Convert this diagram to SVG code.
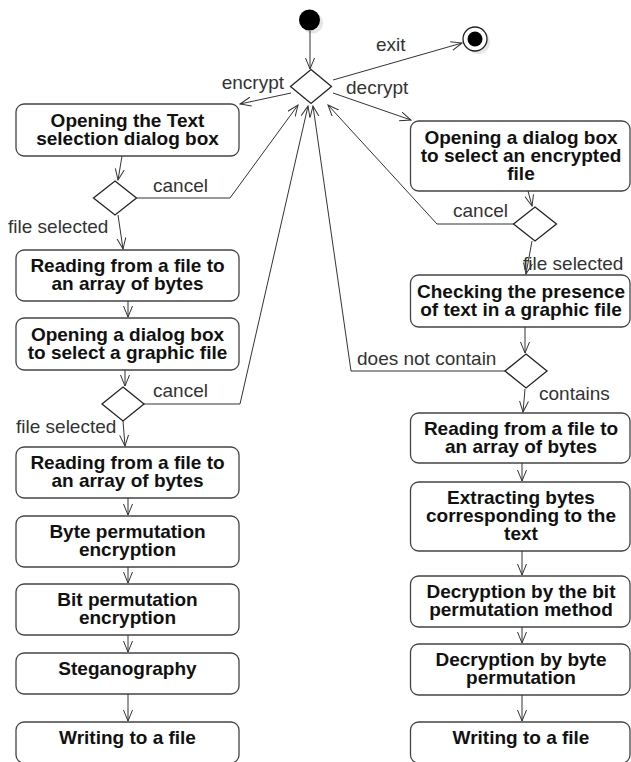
<svg xmlns="http://www.w3.org/2000/svg" width="631" height="762" viewBox="0 0 631 762">
<style>
.box{fill:#fff;stroke:#444;stroke-width:1.3}
.dia{fill:#fff;stroke:#222;stroke-width:1.3}
.t{font-family:"Liberation Sans",Arial,sans-serif;font-size:19px;font-weight:bold;fill:#111;text-anchor:middle}
.lb{font-family:"Liberation Sans",Arial,sans-serif;font-size:19px;fill:#333}
.c{fill:none;stroke:#333;stroke-width:1;marker-end:url(#a)}
</style>
<defs>
<marker id="a" markerUnits="userSpaceOnUse" markerWidth="12" markerHeight="12" refX="11" refY="5" orient="auto"><path d="M0,0.5 L11,5 L0,9.5" fill="none" stroke="#333" stroke-width="1"/></marker>
</defs>
<rect width="631" height="762" fill="#fff"/>
<g id="start"><circle cx="312.5" cy="23" r="10.5" fill="#e6e6e6"/><circle cx="309.5" cy="20" r="10.5" fill="#000"/></g>
<g id="end"><circle cx="478" cy="42" r="12" fill="#e6e6e6"/><circle cx="475" cy="39" r="12" fill="#fff" stroke="#222" stroke-width="1.3"/><circle cx="475" cy="39" r="7.5" fill="#000"/></g>
<g id="dMain"><polygon class="dia" points="311,69.5 331.5,86.5 311,103.5 290.5,86.5"/></g>
<g id="dL1"><polygon class="dia" points="115,181 136.5,198 115,215 93.5,198"/></g>
<g id="dL2"><polygon class="dia" points="123,387 144,404 123,421 102,404"/></g>
<g id="dR1"><polygon class="dia" points="535,207 556.5,224 535,241 513.5,224"/></g>
<g id="dR2"><polygon class="dia" points="526,354 547,371 526,388 505,371"/></g>
<g id="b1"><rect class="box" x="16" y="104" width="223" height="52" rx="8"/><text class="t" x="127.5" y="127">Opening the Text<tspan x="127.5" dy="18">selection dialog box</tspan></text></g>
<g id="b2"><rect class="box" x="16" y="250" width="223" height="51" rx="8"/><text class="t" x="127.5" y="272">Reading from a file to<tspan x="127.5" dy="18">an array of bytes</tspan></text></g>
<g id="b3"><rect class="box" x="16" y="318" width="223" height="52" rx="8"/><text class="t" x="127.5" y="340.5">Opening a dialog box<tspan x="127.5" dy="18">to select a graphic file</tspan></text></g>
<g id="b4"><rect class="box" x="16" y="447" width="223" height="51" rx="8"/><text class="t" x="127.5" y="469">Reading from a file to<tspan x="127.5" dy="18">an array of bytes</tspan></text></g>
<g id="b5"><rect class="box" x="16" y="516" width="223" height="51" rx="8"/><text class="t" x="127.5" y="538">Byte permutation<tspan x="127.5" dy="18">encryption</tspan></text></g>
<g id="b6"><rect class="box" x="16" y="584" width="223" height="51" rx="8"/><text class="t" x="127.5" y="606">Bit permutation<tspan x="127.5" dy="18">encryption</tspan></text></g>
<g id="b7"><rect class="box" x="16" y="653" width="223" height="41" rx="8"/><text class="t" x="127.5" y="675">Steganography</text></g>
<g id="b8"><rect class="box" x="16" y="722" width="223" height="41" rx="8"/><text class="t" x="127.5" y="744">Writing to a file</text></g>
<g id="r1"><rect class="box" x="410.5" y="121" width="219.5" height="70" rx="8"/><text class="t" x="521" y="144">Opening a dialog box<tspan x="521" dy="18">to select an encrypted</tspan><tspan x="521" dy="18">file</tspan></text></g>
<g id="r2"><rect class="box" x="410.5" y="275" width="219.5" height="52" rx="8"/><text class="t" x="521" y="297.5">Checking the presence<tspan x="521" dy="18">of text in a graphic file</tspan></text></g>
<g id="r3"><rect class="box" x="410.5" y="413" width="219.5" height="50" rx="8"/><text class="t" x="521" y="435">Reading from a file to<tspan x="521" dy="18">an array of bytes</tspan></text></g>
<g id="r4"><rect class="box" x="410.5" y="482" width="219.5" height="69" rx="8"/><text class="t" x="521" y="503.5">Extracting bytes<tspan x="521" dy="18">corresponding to the</tspan><tspan x="521" dy="18">text</tspan></text></g>
<g id="r5"><rect class="box" x="410.5" y="576" width="219.5" height="51" rx="8"/><text class="t" x="521" y="598">Decryption by the bit<tspan x="521" dy="18">permutation method</tspan></text></g>
<g id="r6"><rect class="box" x="410.5" y="644" width="219.5" height="51" rx="8"/><text class="t" x="521" y="666">Decryption by byte<tspan x="521" dy="18">permutation</tspan></text></g>
<g id="r7"><rect class="box" x="410.5" y="722" width="219.5" height="41" rx="8"/><text class="t" x="521" y="744">Writing to a file</text></g>
<g id="connectors">
<path class="c" d="M310,31 L310,69"/>
<path class="c" d="M291,93 L240,104"/>
<path class="c" d="M333,80 L462,43"/>
<path class="c" d="M333,93 L411,120"/>
<path class="c" d="M122,156 L118,180"/>
<path class="c" d="M118,215 L123,249"/>
<path class="c" d="M136.5,198 L230,198 L298,105"/>
<path class="c" d="M128,301 L128,317"/>
<path class="c" d="M125,370 L125,386"/>
<path class="c" d="M123,421 L125,446"/>
<path class="c" d="M144,404 L240,404 L308,106"/>
<path class="c" d="M128,498 L128,515"/>
<path class="c" d="M128,567 L128,583"/>
<path class="c" d="M128,635 L128,652"/>
<path class="c" d="M128,694 L128,721"/>
<path class="c" d="M528,191 L532,206"/>
<path class="c" d="M532,241 L526,274"/>
<path class="c" d="M513.5,224 L437,224 L328,105"/>
<path class="c" d="M525,327 L525,353"/>
<path class="c" d="M525,389 L523,412"/>
<path class="c" d="M505,371 L351,371 L313,106"/>
<path class="c" d="M522,463 L522,481"/>
<path class="c" d="M522,551 L522,575"/>
<path class="c" d="M522,627 L522,643"/>
<path class="c" d="M522,695 L522,721"/>
</g>
<g id="labels">
<text class="lb" x="376" y="51">exit</text>
<text class="lb" x="284" y="89" text-anchor="end">encrypt</text>
<text class="lb" x="346" y="94">decrypt</text>
<text class="lb" x="153" y="192">cancel</text>
<text class="lb" x="8" y="233">file selected</text>
<text class="lb" x="153" y="397">cancel</text>
<text class="lb" x="16" y="433">file selected</text>
<text class="lb" x="453" y="217">cancel</text>
<text class="lb" x="523" y="270">file selected</text>
<text class="lb" x="357" y="365">does not contain</text>
<text class="lb" x="539" y="400">contains</text>
</g>
</svg>
